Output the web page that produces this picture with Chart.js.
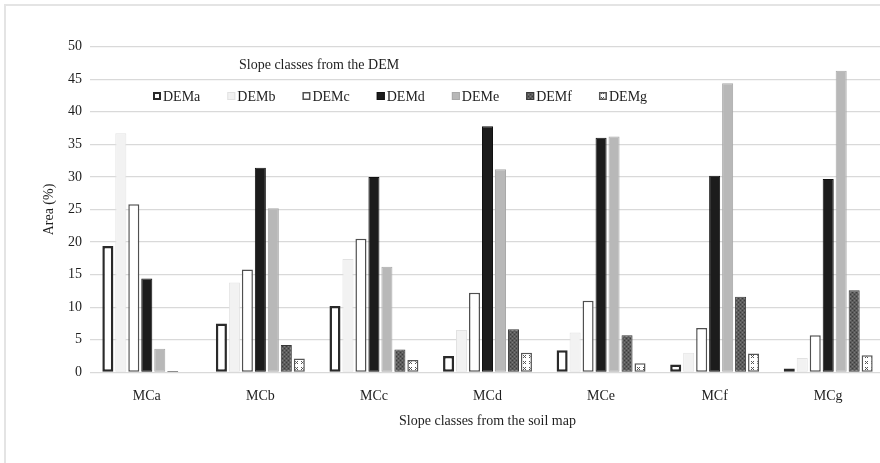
<!DOCTYPE html>
<html>
<head>
<meta charset="utf-8">
<script src="https://cdn.jsdelivr.net/npm/chart.js@4/dist/chart.umd.min.js"></script>
<style>
  html,body{margin:0;padding:0;background:#fff;overflow:hidden;width:880px;height:463px;}
  #frame{position:absolute;left:4px;top:4px;width:900px;height:500px;border:2px solid #e4e4e4;box-sizing:border-box;}
  #wrap{position:absolute;left:0;top:0;width:890px;height:463px;}
</style>
</head>
<body>
<div id="frame"></div>
<div id="wrap"><canvas id="c" width="890" height="463"></canvas></div>
<script>
// categories (slope classes from the soil map)
const categories = ['MCa','MCb','MCc','MCd','MCe','MCf','MCg'];
// area (%) per DEM slope class
const demA = [19.4, 7.5, 10.2, 2.5, 3.4, 1.2, 0.6];
const demB = [36.7, 13.8, 17.4, 6.5, 6.1, 3.0, 2.2];
const demC = [25.8, 15.8, 20.5, 12.2, 11.0, 6.8, 5.7];
const demD = [14.4, 31.4, 30.0, 37.8, 36.0, 30.2, 29.7];
const demE = [3.6, 25.2, 16.2, 31.2, 36.2, 44.4, 46.3];
const demF = [0.2, 4.2, 3.5, 6.6, 5.7, 11.6, 12.6];
const demG = [0, 2.1, 1.9, 3.0, 1.4, 2.9, 2.6];
const seriesNames = ['DEMa','DEMb','DEMc','DEMd','DEMe','DEMf','DEMg'];
const yTicks = [0,5,10,15,20,25,30,35,40,45,50];

const TXT = '#1e1e1e';
const FONT = {family:'"Liberation Serif", "Times New Roman", serif', size:14};

function makePattern(size, draw){
  const cv=document.createElement('canvas'); cv.width=size; cv.height=size;
  const g=cv.getContext('2d'); draw(g);
  return document.getElementById('c').getContext('2d').createPattern(cv,'repeat');
}
const patF = makePattern(4, g=>{
  g.fillStyle='#5c5c5c'; g.fillRect(0,0,4,4);
  g.fillStyle='#3c3c3c'; g.fillRect(0,0,1,1); g.fillRect(2,2,1,1);
  g.fillStyle='#7a7a7a'; g.fillRect(2,0,1,1); g.fillRect(0,2,1,1);
});
const patG = makePattern(6, g=>{
  g.fillStyle='#ffffff'; g.fillRect(0,0,6,6);
  g.fillStyle='#555'; 
  g.fillRect(1,1,1,1); g.fillRect(3,1,1,1); g.fillRect(2,2,1,1); g.fillRect(1,3,1,1); g.fillRect(3,3,1,1);
});

const styles = [
  {bg:'#ffffff', bc:'#2a2a2a', bw:2.5},
  {bg:'#f2f2f2', bc:'#e2e2e2', bw:1},
  {bg:'#ffffff', bc:'#505050', bw:1.5},
  {bg:'#1c1c1c', bc:'#111111', bw:1},
  {bg:'#b8b8b8', bc:'#a9a9a9', bw:1},
  {bg:patF,      bc:'#383838', bw:1},
  {bg:patG,      bc:'#555555', bw:1.5},
];
const seriesData = [demA,demB,demC,demD,demE,demF,demG];

const legendPlugin = {
  id:'inlineLegend',
  afterDraw(chart){
    const ctx=chart.ctx;
    ctx.save();
    ctx.font='14px "Liberation Serif", "Times New Roman", serif';
    ctx.fillStyle=TXT;
    ctx.textBaseline='middle';
    ctx.textAlign='left';
    ctx.fillText('Slope classes from the DEM', 239, 65);
    let x=153; const y=96;
    chart.data.datasets.forEach(ds=>{
      const s=8;
      ctx.fillStyle=ds.backgroundColor;
      ctx.fillRect(x, y-s/2, s, s);
      ctx.strokeStyle=ds.borderColor;
      ctx.lineWidth=Math.min(ds.borderWidth,2);
      ctx.strokeRect(x+ctx.lineWidth/2, y-s/2+ctx.lineWidth/2, s-ctx.lineWidth, s-ctx.lineWidth);
      ctx.fillStyle=TXT;
      ctx.fillText(ds.label, x+10, y+1);
      x += 10 + ctx.measureText(ds.label).width + 27;
    });
    ctx.restore();
  }
};

new Chart(document.getElementById('c'), {
  type:'bar',
  data:{
    labels:categories,
    datasets:seriesNames.map((n,i)=>({
      label:n, data:seriesData[i],
      backgroundColor:styles[i].bg, borderColor:styles[i].bc, borderWidth:styles[i].bw,
      borderSkipped:false, barPercentage:0.85, categoryPercentage:0.8
    }))
  },
  options:{
    responsive:false, animation:false,
    layout:{padding:{left:0,right:5,top:46.7,bottom:0}},
    plugins:{legend:{display:false}, tooltip:{enabled:false}},
    scales:{
      x:{
        grid:{display:false}, border:{display:false},
        ticks:{color:TXT, font:FONT, padding:8},
        title:{display:true, text:'Slope classes from the soil map', color:TXT, font:FONT, padding:{top:0,bottom:33}},
        afterFit:s=>{s.height=90.7;}
      },
      y:{
        min:0, max:50,
        afterBuildTicks:s=>{s.ticks=yTicks.map(v=>({value:v}));},
        grid:{color:'#d9d9d9', lineWidth:1.3, drawTicks:false}, border:{display:false},
        ticks:{color:TXT, font:FONT, padding:8},
        title:{display:true, text:'Area (%)', color:TXT, font:FONT, padding:{top:41,bottom:0}},
        afterFit:s=>{s.width=90;}
      }
    }
  },
  plugins:[legendPlugin]
});
</script>
</body>
</html>
